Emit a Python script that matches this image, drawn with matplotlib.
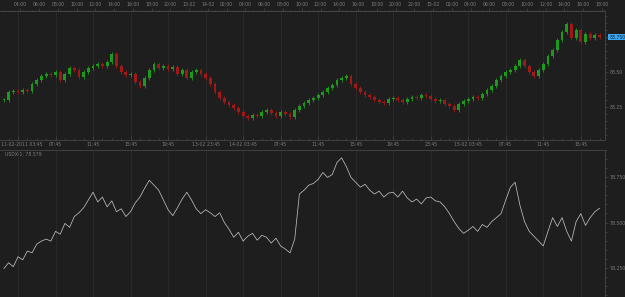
import matplotlib
matplotlib.use("Agg")
import matplotlib.pyplot as plt
import matplotlib.transforms as mtransforms
import numpy as np
from matplotlib.ticker import MultipleLocator, FixedLocator

# 30 minute bars, bar 0 = 11-02-2011 03:45
bars = np.arange(-3, 125)

closes = [
    83.300, 83.357, 83.364, 83.357, 83.371, 83.364, 83.414, 83.443, 83.471, 83.486,
    83.479, 83.500, 83.443, 83.486, 83.529, 83.514, 83.464, 83.500, 83.529, 83.543,
    83.557, 83.543, 83.571, 83.629, 83.543, 83.500, 83.479, 83.486, 83.429, 83.400,
    83.457, 83.514, 83.557, 83.529, 83.543, 83.521, 83.536, 83.486, 83.514, 83.457,
    83.500, 83.514, 83.486, 83.457, 83.414, 83.357, 83.314, 83.286, 83.264, 83.243,
    83.214, 83.186, 83.171, 83.193, 83.186, 83.214, 83.229, 83.207, 83.186, 83.214,
    83.200, 83.179, 83.229, 83.257, 83.279, 83.300, 83.314, 83.336, 83.357, 83.386,
    83.407, 83.443, 83.457, 83.471, 83.414, 83.386, 83.357, 83.336, 83.321, 83.300,
    83.286, 83.279, 83.307, 83.314, 83.300, 83.286, 83.307, 83.321, 83.314, 83.336,
    83.329, 83.307, 83.293, 83.300, 83.271, 83.257, 83.229, 83.271, 83.293, 83.307,
    83.321, 83.314, 83.343, 83.371, 83.400, 83.443, 83.471, 83.500, 83.514, 83.543,
    83.586, 83.543, 83.500, 83.471, 83.514, 83.557, 83.614, 83.657, 83.729, 83.786,
    83.843, 83.743, 83.800, 83.714, 83.771, 83.743, 83.764, 83.750,
]

usdx = [
    78.245, 78.277, 78.255, 78.310, 78.293, 78.342, 78.332, 78.380, 78.397, 78.408,
    78.397, 78.451, 78.435, 78.495, 78.473, 78.533, 78.554, 78.582, 78.625, 78.668,
    78.614, 78.641, 78.587, 78.620, 78.560, 78.576, 78.533, 78.560, 78.609, 78.641,
    78.690, 78.734, 78.707, 78.679, 78.625, 78.571, 78.538, 78.582, 78.630, 78.668,
    78.625, 78.576, 78.549, 78.571, 78.554, 78.533, 78.554, 78.500, 78.462, 78.418,
    78.446, 78.397, 78.424, 78.440, 78.402, 78.429, 78.418, 78.386, 78.413, 78.370,
    78.353, 78.332, 78.408, 78.658, 78.679, 78.707, 78.717, 78.739, 78.777, 78.750,
    78.766, 78.832, 78.859, 78.810, 78.750, 78.723, 78.696, 78.712, 78.679, 78.658,
    78.674, 78.641, 78.663, 78.668, 78.641, 78.674, 78.636, 78.614, 78.630, 78.603,
    78.636, 78.641, 78.620, 78.614, 78.587, 78.549, 78.505, 78.467, 78.440, 78.457,
    78.478, 78.451, 78.489, 78.473, 78.505, 78.527, 78.549, 78.625, 78.696, 78.723,
    78.598, 78.505, 78.451, 78.424, 78.397, 78.370, 78.451, 78.527, 78.478, 78.527,
    78.451, 78.397, 78.505, 78.549, 78.484, 78.527, 78.560, 78.579,
]

top_labels = ["04:00", "06:00", "08:00", "10:00", "12:00", "14:00", "16:00", "18:00",
              "20:00", "13-02", "14-02", "02:00", "04:00", "06:00", "08:00", "10:00",
              "12:00", "14:00", "16:00", "18:00", "20:00", "22:00", "15-02", "02:00",
              "04:00", "06:00", "08:00", "10:00", "12:00", "14:00", "16:00", "18:00"]
top_pos = [0.5 + 4 * k for k in range(len(top_labels))]

bottom_labels = ["11-02-2011 03:45", "07:45", "11:45", "15:45", "19:45", "13-02 23:45",
                 "14-02 03:45", "07:45", "11:45", "15:45", "19:45", "23:45",
                 "15-02 03:45", "07:45", "11:45", "15:45"]
bottom_pos = [8 * j for j in range(len(bottom_labels))]

eur_ticks = [83.25, 83.50, 83.75]
eur_labels = ["83.25", "83.50", ""]
usdx_ticks = [78.25, 78.50, 78.75]
usdx_labels = ["78.250", "78.500", "78.750"]

bg = "#1e1e1e"
grid_c = "#2b2b2b"
txt_c = "#7e7e7e"
spine_c = "#474747"
up_c = "#1c9a1c"
dn_c = "#a01818"
fs = 3.3

W, H = 625, 297
fig = plt.figure(figsize=(W / 100, H / 100), dpi=100, facecolor=bg)

ax1 = fig.add_axes([0, 1 - 140 / H, 605 / W, 129 / H], facecolor=bg)
ax2 = fig.add_axes([0, 0, 605 / W, 147 / H], facecolor=bg)

xlim = (-18 / 4.69, (605 - 18) / 4.69)

# candles, open = previous close
closes = np.array(closes)
opens = np.concatenate(([closes[0]], closes[:-1]))
wick = 0.012
highs = np.maximum(opens, closes) + wick
lows = np.minimum(opens, closes) - wick
colors = [up_c if c >= o else dn_c for o, c in zip(opens, closes)]

ax1.vlines(bars, lows, highs, colors=colors, linewidth=0.6)
ax1.bar(bars, np.maximum(np.abs(closes - opens), 0.005), bottom=np.minimum(opens, closes),
        width=0.6, color=colors, linewidth=0)

ax1.set_xlim(*xlim)
ax1.set_ylim(83.014, 83.936)

# bottom line
ax2.plot(bars, usdx, color="#bdbdbd", linewidth=0.55)
ax2.set_xlim(*xlim)
ax2.set_ylim(78.087, 78.902)
ax2.text(0.008, 0.985, f"USDX-1: {usdx[-1]:.3f}", transform=ax2.transAxes,
         ha="left", va="top", fontsize=fs, color=txt_c)

for ax in (ax1, ax2):
    ax.spines["left"].set_visible(False)
    for s in ("top", "bottom", "right"):
        ax.spines[s].set_color(spine_c)
        ax.spines[s].set_linewidth(0.6)
    ax.xaxis.set_major_locator(FixedLocator(bottom_pos))
    ax.grid(axis="x", color=grid_c, linewidth=0.6)
    ax.yaxis.tick_right()
    ax.yaxis.set_minor_locator(MultipleLocator(0.05))
    ax.tick_params(axis="y", which="both", direction="out", length=2, width=0.5,
                   color=spine_c, labelsize=fs, labelcolor=txt_c, pad=1.5)
    ax.tick_params(axis="y", which="minor", length=1.2)
    ax.set_axisbelow(True)

ax1.set_yticks(eur_ticks)
ax1.set_yticklabels(eur_labels)
ax2.set_yticks(usdx_ticks)
ax2.set_yticklabels(usdx_labels)

ax1.set_xticks(bottom_pos)
ax1.set_xticklabels(bottom_labels)
ax1.xaxis.set_minor_locator(MultipleLocator(2))
ax1.tick_params(axis="x", which="both", direction="in", length=3, width=0.5, color=spine_c,
                labelsize=fs, labelcolor=txt_c, pad=1.5)
ax1.tick_params(axis="x", which="minor", length=1.5)

# first date label starts at the left edge
first = ax1.get_xticklabels()[0]
first.set_horizontalalignment("left")
first.set_transform(first.get_transform() + mtransforms.ScaledTranslation(-17 / 100, 0, fig.dpi_scale_trans))

top = ax1.secondary_xaxis("top")
top.set_xticks(top_pos)
top.set_xticklabels(top_labels)
top.xaxis.set_minor_locator(MultipleLocator(1))
top.tick_params(axis="x", which="both", direction="out", length=2, width=0.5, color=spine_c,
                labelsize=fs, labelcolor=txt_c, pad=1.2)
top.tick_params(axis="x", which="minor", length=1)
top.spines["top"].set_color(spine_c)
top.spines["top"].set_linewidth(0.6)

ax2.tick_params(axis="x", which="both", bottom=False, labelbottom=False)

# last price marker
ax1.annotate(f"{closes[-1]:.3f}", xy=(1.0, closes[-1]), xycoords=("axes fraction", "data"),
             xytext=(3, 0), textcoords="offset points", ha="left", va="center",
             fontsize=fs, color="#0b2540",
             bbox=dict(boxstyle="square,pad=0.2", facecolor="#3aa6f0", edgecolor="none"),
             annotation_clip=False)

fig.savefig("out.png", dpi=100, facecolor=bg)
